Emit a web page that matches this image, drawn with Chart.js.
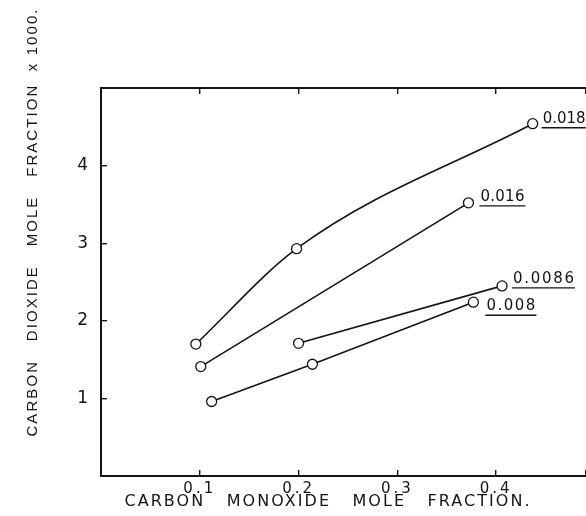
<!DOCTYPE html>
<html>
<head>
<meta charset="utf-8">
<script src="https://cdn.jsdelivr.net/npm/chart.js@4.4.1/dist/chart.umd.min.js"></script>
<style>
  html, body { margin: 0; padding: 0; background: #fff; overflow: hidden; }
</style>
</head>
<body>
<canvas id="chart" width="586" height="516"></canvas>
<script>
// curves labelled by their value at the right end
const seriesNames = ['0.018', '0.016', '0.0086', '0.008'];

// carbon monoxide mole fraction (x) / carbon dioxide mole fraction x 1000 (y)
const co_018 = [0.096, 0.198, 0.437];
const co2_018 = [1.70, 2.93, 4.54];
const co_016 = [0.101, 0.372];
const co2_016 = [1.41, 3.52];
const co_0086 = [0.200, 0.406];
const co2_0086 = [1.71, 2.45];
const co_008 = [0.112, 0.214, 0.377];
const co2_008 = [0.96, 1.44, 2.24];

const xTickValues = [0.1, 0.2, 0.3, 0.4];
const xTickLabels = ['0.1', '0.2', '0.3', '0.4'];
const yTickValues = [1, 2, 3, 4];
const yTickLabels = ['1', '2', '3', '4'];

const xTitle = 'CARBON   MONOXIDE   MOLE   FRACTION.';
const yTitle = 'CARBON   DIOXIDE   MOLE   FRACTION  x 1000.';

const xs = [co_018, co_016, co_0086, co_008];
const ys = [co2_018, co2_016, co2_0086, co2_008];
const smooth = [true, false, false, false];
// where each curve's label sits, relative to its last point, and how wide it is lettered
const labelOffsets = [[10, -5], [12, -6], [11, -7], [13, 4]];
const labelWidths = [42, 44, 61, 49];

const ink = '#141414';
const fontFamily = '"DejaVu Sans", sans-serif';

function pickLabel(values, labels, v) {
    const i = values.findIndex(t => Math.abs(t - v) < 1e-6);
    return i >= 0 ? labels[i] : '';
}

const datasets = seriesNames.map((name, k) => ({
    label: name,
    data: xs[k].map((x, i) => ({ x: x, y: ys[k][i] })),
    borderColor: ink,
    borderWidth: 1.6,
    cubicInterpolationMode: smooth[k] ? 'monotone' : 'default',
    tension: 0,
    pointRadius: 5,
    pointBackgroundColor: '#fff',
    pointBorderColor: ink,
    pointBorderWidth: 1.3,
    fill: false
}));

// the tick numbers are hand lettered and widely spaced
const spacing = {
    id: 'spacing',
    beforeDraw(chart) { chart.ctx.letterSpacing = '3px'; },
    afterDraw(chart) { chart.ctx.letterSpacing = '0px'; }
};

function fitText(ctx, text, width) {
    ctx.letterSpacing = '0px';
    const w = ctx.measureText(text).width;
    ctx.letterSpacing = Math.max(0, (width - w) / (text.length - 1)) + 'px';
}

const curveLabels = {
    id: 'curveLabels',
    afterDatasetsDraw(chart) {
        const ctx = chart.ctx;
        ctx.save();
        ctx.font = '15px ' + fontFamily;
        ctx.fillStyle = ink;
        ctx.strokeStyle = ink;
        ctx.lineWidth = 1.4;
        ctx.textAlign = 'left';
        ctx.textBaseline = 'middle';
        chart.data.datasets.forEach((ds, k) => {
            const pts = chart.getDatasetMeta(k).data;
            const last = pts[pts.length - 1];
            const tx = last.x + labelOffsets[k][0];
            const ty = last.y + labelOffsets[k][1];
            fitText(ctx, ds.label, labelWidths[k]);
            ctx.fillText(ds.label, tx, ty);
            ctx.beginPath();
            ctx.moveTo(tx - 1, ty + 9);
            ctx.lineTo(tx + labelWidths[k] + 1, ty + 9);
            ctx.stroke();
        });
        ctx.restore();
    }
};

const axisTitles = {
    id: 'axisTitles',
    afterDraw(chart) {
        const ctx = chart.ctx;
        ctx.save();
        ctx.fillStyle = ink;
        ctx.textAlign = 'center';
        ctx.textBaseline = 'middle';
        ctx.font = '16px ' + fontFamily;
        fitText(ctx, xTitle, 405);
        ctx.fillText(xTitle, 328, 502);
        ctx.font = '15px "Liberation Sans", Arial, sans-serif';
        ctx.translate(33, 222);
        ctx.rotate(-Math.PI / 2);
        fitText(ctx, yTitle, 427);
        ctx.fillText(yTitle, 0, 0);
        ctx.restore();
    }
};

const gridStyle = { drawOnChartArea: false, tickLength: -6, color: ink, lineWidth: 1.4 };
const borderStyle = { color: ink, width: 2 };

// no room kept for end labels: the frame runs off the right edge
function noSidePadding(s) {
    s.paddingLeft = 0;
    s.paddingRight = 0;
}

new Chart(document.getElementById('chart'), {
    type: 'line',
    data: { datasets: datasets },
    options: {
        responsive: false,
        animation: false,
        layout: { padding: 0, autoPadding: false },
        plugins: { legend: { display: false }, tooltip: { enabled: false } },
        scales: {
            x: {
                type: 'linear',
                position: 'bottom',
                min: 0,
                max: 0.491,
                afterFit(s) { s.height = 40; noSidePadding(s); },
                ticks: {
                    stepSize: 0.1,
                    padding: 10,
                    maxRotation: 0,
                    autoSkip: false,
                    color: ink,
                    font: { family: fontFamily, size: 15 },
                    callback: v => pickLabel(xTickValues, xTickLabels, v)
                },
                grid: gridStyle,
                border: borderStyle
            },
            xTop: {
                type: 'linear',
                position: 'top',
                min: 0,
                max: 0.491,
                afterFit(s) { s.height = 88; noSidePadding(s); },
                ticks: { stepSize: 0.1, display: false },
                grid: gridStyle,
                border: borderStyle
            },
            y: {
                type: 'linear',
                position: 'left',
                min: 0,
                max: 5,
                afterFit(s) { s.width = 101; s.paddingTop = 0; s.paddingBottom = 0; },
                ticks: {
                    stepSize: 1,
                    padding: 16,
                    color: ink,
                    font: { family: fontFamily, size: 17 },
                    callback: v => pickLabel(yTickValues, yTickLabels, v)
                },
                grid: gridStyle,
                border: borderStyle
            }
        }
    },
    plugins: [spacing, curveLabels, axisTitles]
});
</script>
</body>
</html>
